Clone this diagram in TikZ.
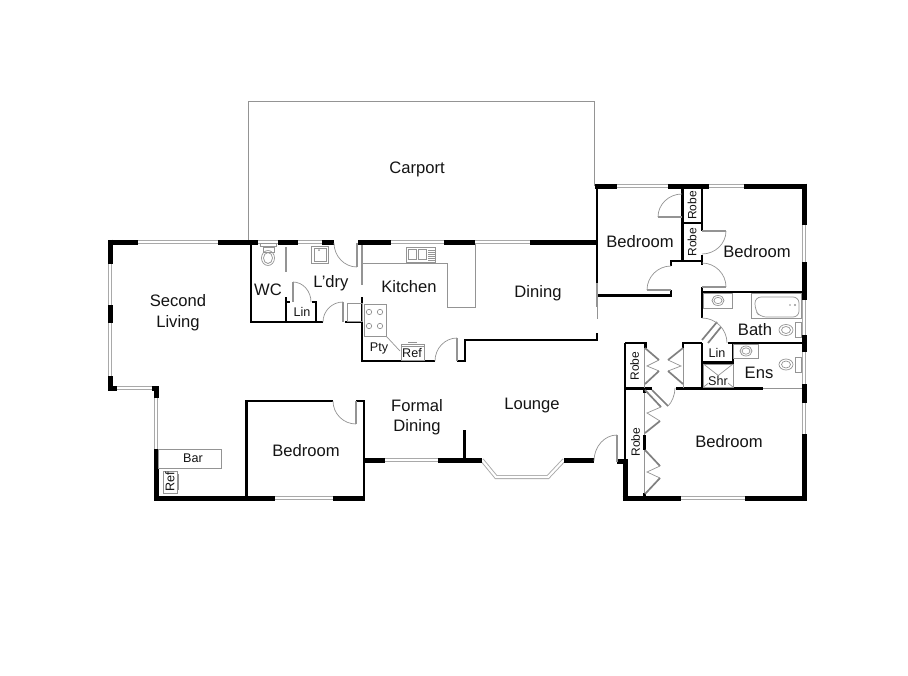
\documentclass[tikz,border=0pt]{standalone}
\usepackage{fontspec}
\setmainfont{Liberation Sans}
\usetikzlibrary{calc}
\definecolor{glin}{gray}{0.58}
\definecolor{ink}{gray}{0.08}
\tikzset{
  ext/.style={draw=black,line width=5pt,line cap=butt},
  ints/.style={draw=black,line width=2.8pt,line cap=square},
  win/.style={draw=glin!80,line width=0.9pt,double=white,double distance=2.2pt,line cap=butt},
  fine/.style={draw=glin,line width=0.7pt},
  leaf/.style={draw=glin,line width=1.3pt},
  heavyleaf/.style={draw=gray,line width=1.7pt},
  room/.style={font=\fontsize{16.6}{18}\selectfont,text=ink,inner sep=0pt,anchor=center,align=center},
  small/.style={font=\fontsize{12.6}{14}\selectfont,text=ink,inner sep=0pt,anchor=center},
  robelabel/.style={font=\fontsize{12}{14}\selectfont,text=ink,inner sep=0pt,anchor=center,rotate=90},
}
\newcommand{\qarc}[3]{\draw[fine] (#1) .. controls ($(#1)!.55!(#2)$) and ($(#3)!.55!(#2)$) .. (#3);}
\begin{document}
\begin{tikzpicture}[x=1pt,y=-1pt]
\useasboundingbox (0,0) rectangle (908,675);
\fill[white] (0,0) rectangle (908,675);
% carport
\draw[fine] (248,242) -- (248,101) -- (594,101) -- (594,186);
% windows
\foreach \a/\b in {138/218,258/278,298/322,391/444,475/503,503/530}{\draw[win] (\a,242)--(\b,242);}
\foreach \a/\b in {617/668,709/744}{\draw[win] (\a,186)--(\b,186);}
\draw[win] (110,264)--(110,305);
\draw[win] (110,323)--(110,376);
\draw[win] (117,388)--(153,388);
\draw[win] (156,398)--(156,449);
\draw[win] (275,498)--(333,498);
\draw[win] (385,460)--(438,460);
\draw[win] (482,460)--(496,477)--(548,477)--(564,460);
\draw[win] (681,498)--(745,498);
\draw[win] (804,225)--(804,262);
\draw[win] (804,300)--(804,335);
\draw[win] (804,352)--(804,384);
\draw[win] (804,403)--(804,434);
% exterior walls
\draw[ext] (138,242)--(108,242);
\draw[ext] (110,239.5)--(110,264);
\draw[ext] (110,305)--(110,323);
\draw[ext] (110,376)--(110,390.5);
\draw[ext] (108,388)--(117,388);
\draw[ext] (152,388)--(158.5,388);
\draw[ext] (156,386)--(156,398);
\draw[ext] (156,449)--(156,500.5);
\draw[ext] (154,498)--(275,498);
\draw[ext] (333,498)--(365,498);
\draw[ext] (218,242)--(258,242);
\draw[ext] (278,242)--(298,242);
\draw[ext] (322,242)--(334,242);
\draw[ext] (358,242)--(391,242);
\draw[ext] (444,242)--(475,242);
\draw[ext] (530,242)--(597,242);
\draw[ext] (364,460)--(385,460);
\draw[ext] (438,460)--(482,460);
\draw[ext] (564,460)--(594,460);
\draw[ext] (617,461)--(626,461);
\draw[ext] (625,459)--(625,500.5);
\draw[ext] (622.5,498)--(681,498);
\draw[ext] (745,498)--(806.5,498);
\draw[ext] (595,186)--(617,186);
\draw[ext] (668,186)--(709,186);
\draw[ext] (744,186)--(806.5,186);
\draw[ext] (804,183.5)--(804,225);
\draw[ext] (804,262)--(804,300);
\draw[ext] (804,335)--(804,352);
\draw[ext] (804,384)--(804,403);
\draw[ext] (804,434)--(804,500);
% interior walls
\draw[ints] (597,188)--(597,283);
\draw[ints] (597,295.5)--(671,295.5)--(671,290);
\draw[ints] (671,266)--(671,261)--(702,261)--(702,265);
\draw[ints] (702,255)--(702,261);
\draw[ints] (682.5,186)--(682.5,261);
\draw[ints] (702,186)--(702,231);
\draw[ints] (682.5,223)--(702,223);
\draw[ints] (702,287)--(702,318);
\draw[ints] (702,292)--(803,292);
\draw[ints] (251,242)--(251,322)--(323,322);
\draw[ints] (286,297)--(286,322);
\draw[ints] (286,302)--(290,302);
\draw[ints] (312,302)--(316,302)--(316,322);
\draw[ints] (345,322)--(362,322);
\draw[ints] (362,297)--(362,361)--(435,361);
\draw[ints] (457,361)--(465,361)--(465,340)--(597,340)--(597,333);
\draw[ints] (246.5,498)--(246.5,401)--(333,401);
\draw[ints] (356,401)--(364,401)--(364,498);
\draw[ints] (464.5,430)--(464.5,460);
\draw[ints] (625,343)--(645.5,343)--(645.5,348);
\draw[ints] (625,343)--(625,459);
\draw[ints] (625,388.5)--(652,388.5);
\draw[ints] (683,348)--(683,343)--(702,343);
\draw[ints] (702,343)--(702,388);
\draw[ints] (676,388.5)--(763,388.5);
\draw[ints] (702,362.5)--(733,362.5)--(733,343);
\draw[ints] (728,343)--(803,343);
\draw[ints] (644.5,435)--(644.5,450);
\draw[ints] (644.5,493)--(644.5,498);
\draw[ints] (644.5,389)--(644.5,393);
% thin grey wall pieces
\draw[leaf,line width=2pt] (286,247)--(286,272);
\draw[leaf,line width=2pt] (362,245)--(362,285);
\draw[leaf,line width=2pt] (597,283)--(597,307);
\draw[fine] (597,307)--(597,319);
\draw[fine] (683,348)--(683,388);
\draw[fine] (644.5,348)--(644.5,388);
\draw[fine] (644.5,393)--(644.5,435);
\draw[fine] (644.5,450)--(644.5,493);
\draw[fine] (763,388.5)--(802,388.5);
% doors
\draw[leaf] (357,243)--(357,267); \qarc{334,243}{334,267}{357,267}
\draw[leaf] (293,282)--(293,302); \qarc{293,282}{311,282}{311,302}
\draw[leaf] (343,302)--(343,322); \qarc{323,322}{323,302}{343,302}
\draw[leaf] (356,401)--(356,424); \qarc{333,401}{333,424}{356,424}
\draw[leaf] (457,338)--(457,361); \qarc{435,361}{435,338}{457,338}
\draw[leaf] (617,435)--(617,462); \qarc{594,461}{594,435}{617,435}
\draw[leaf] (658,217)--(682,217); \qarc{658,217}{658,194}{682,194}
\draw[leaf] (702,231)--(726,231); \qarc{726,231}{726,254}{702,254}
\draw[leaf] (647,290)--(671,290); \qarc{647,290}{647,266}{671,266}
\draw[leaf] (702,287)--(726,287); \qarc{726,287}{726,263}{702,263}
% bath door
\draw[heavyleaf] (702,340)--(717,322);
\draw[heavyleaf] (708,343)--(721,327);
\qarc{702,318}{727,318}{727,343}
% robe bifolds
\draw[heavyleaf] (645,348)--(659,360);
\draw[fine] (659,360)--(647,366)--(659,371);
\draw[heavyleaf] (659,371)--(645,384);
\draw[heavyleaf] (683,348)--(668,360);
\draw[fine] (668,360)--(681,366)--(668,371);
\draw[heavyleaf] (668,371)--(683,384);
\draw[heavyleaf] (645,390)--(661,407);
\draw[heavyleaf] (652,390)--(668,406);
\qarc{668,406}{675,400}{675,388}
\draw[fine] (661,407)--(647,413)--(660,421);
\draw[heavyleaf] (660,421)--(645,433);
\draw[heavyleaf] (645,450)--(660,466);
\draw[fine] (660,466)--(647,472)--(660,478);
\draw[heavyleaf] (660,478)--(645,494);
% fixtures: Bar, Ref
\draw[fine] (158,449) rectangle (221,468);
\draw[fine] (163,471) rectangle (177,493);
\draw[fine] (178,474)--(178,490);
% WC toilet
\draw[fine] (260,243) rectangle (276,246);
\draw[fine] (263,247) rectangle (274,252);
\draw[fine] (268,258) ellipse [x radius=6.5,y radius=7.5];
\draw[fine] (268,258) ellipse [x radius=4.5,y radius=5.5];
% laundry tub
\draw[fine] (311,246) rectangle (328,263);
\draw[fine] (314,248) rectangle (326,261);
\fill[glin] (319,250) circle (1);
% kitchen bench
\draw[fine] (363,263)--(447,263)--(447,307)--(475,307)--(475,244);
\draw[fine] (406,247) rectangle (435,262);
\draw[fine] (408,249) rectangle (416,259);
\draw[fine] (418,249) rectangle (426,259);
\foreach \y in {250,252,...,260}{\draw[glin,line width=1pt] (428,\y)--(435,\y);}
% stove
\draw[fine] (347,303) rectangle (362,321);
\draw[fine] (364,304) rectangle (386,336);
\foreach \x in {369,380}{\foreach \y in {312,326}{\draw[fine] (\x,\y) circle (2.7);}}
\draw[fine] (386,336)--(400,351);
\draw[fine] (401,344) rectangle (424,360);
\draw[fine] (401,346.5)--(424,346.5);
\draw[fine] (408,342.5)--(417,342.5);
% bath fixtures
\draw[fine] (703,293) rectangle (732,308);
\draw[fine] (718,300.5) ellipse [x radius=6,y radius=5];
\draw[fine] (718,300.5) ellipse [x radius=4,y radius=3.2];
\draw[fine] (751,293) rectangle (801,318);
\draw[fine,rounded corners=6pt] (755,297) -- (799,297) -- (799,317) -- (760,317) -- (755,310) -- cycle;
\fill[glin] (795,305) circle (1.2);
\fill[glin] (790,305) circle (0.8);
\draw[fine] (795,322) rectangle (801,337);
\draw[fine] (786,330) ellipse [x radius=7,y radius=5.5];
\draw[fine] (786,330) ellipse [x radius=4.5,y radius=3.5];
% ensuite fixtures
\draw[fine] (733,344) rectangle (758,358);
\draw[fine] (746,351) ellipse [x radius=6,y radius=5];
\draw[fine] (746,351) ellipse [x radius=4,y radius=3.2];
\draw[fine] (795,357) rectangle (801,372);
\draw[fine] (786,364.5) ellipse [x radius=7,y radius=5.5];
\draw[fine] (786,364.5) ellipse [x radius=4.5,y radius=3.5];
\draw[fine] (703.5,364) rectangle (733,387);
\draw[fine] (703.5,364)--(733,387);
\draw[fine] (733,364)--(703.5,387);
% labels
\node[fill=white,inner sep=0.5pt,small] (shr) at (718,381) {Shr};
\node[room] (carport) at (417,169.5) {Carport};
\node[room] (second) at (178,312.5) {Second\\[2.5pt]Living};
\node[room] (wc) at (268,289.5) {WC};
\node[room] (ldry) at (331,283) {L'dry};
\node[room] (kitchen) at (409,287) {Kitchen};
\node[room] (dining) at (538,293.5) {Dining};
\node[room] (formal) at (417,417) {Formal\\[2.5pt]Dining};
\node[room] (lounge) at (532,406) {Lounge};
\node[room] (bed1) at (306,451) {Bedroom};
\node[room] (bed2) at (640,241.5) {Bedroom};
\node[room] (bed3) at (757,251.5) {Bedroom};
\node[room] (bed4) at (729,441.5) {Bedroom};
\node[room] (bath) at (755,329.5) {Bath};
\node[room] (ens) at (759,373) {Ens};
\node[small] (bar) at (193,458) {Bar};
\node[small,rotate=90] (ref1) at (170,482) {Ref};
\node[small] (lin1) at (302,312) {Lin};
\node[small] (lin2) at (717,353) {Lin};
\node[small] (pty) at (379,348) {Pty};
\node[small] (ref2) at (412,353) {Ref};
\node[robelabel] (robe1) at (692,205.5) {Robe};
\node[robelabel] (robe2) at (692,242) {Robe};
\node[robelabel] (robe3) at (634.5,366) {Robe};
\node[robelabel] (robe4) at (635.5,442) {Robe};
\end{tikzpicture}
\end{document}
